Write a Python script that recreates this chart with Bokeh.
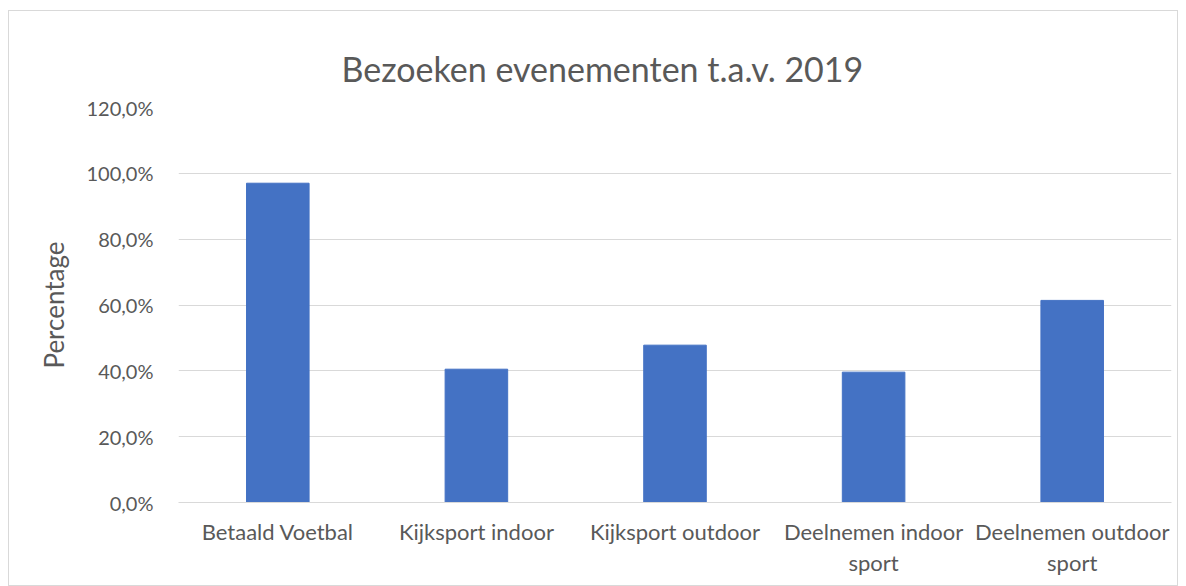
from bokeh.plotting import figure
from bokeh.models import Range1d, FactorRange, FixedTicker, CustomJSTickFormatter, Title
from bokeh.embed import file_html
from bokeh.resources import INLINE

title_text = "Bezoeken evenementen t.a.v. 2019"
categories = ["Betaald Voetbal", "Kijksport indoor", "Kijksport outdoor",
              "Deelnemen indoor sport", "Deelnemen outdoor sport"]
values = [97.0, 40.5, 47.8, 39.6, 61.4]
label_lines = {"Deelnemen indoor sport": "Deelnemen indoor\nsport",
               "Deelnemen outdoor sport": "Deelnemen outdoor\nsport"}
y_ticks = [0, 20, 40, 60, 80, 100, 120]

factors = [label_lines.get(c, c) for c in categories]

FONT = "Lato"
TXT = "#595959"
GRID = "#d9d9d9"

p = figure(x_range=FactorRange(factors=factors, range_padding=0),
           y_range=Range1d(0, 120),
           width=1170, height=576, output_backend="svg", toolbar_location=None,
           min_border_left=169, min_border_right=8, min_border_top=96, min_border_bottom=85)

p.vbar(x=factors, top=values, width=0.315, color="#4472C4")

t = Title(text=title_text, align="left", offset=163, vertical_align="top",
          text_font=FONT, text_font_size="34px", text_font_style="normal",
          text_color=TXT, standoff=34)
p.add_layout(t, "above")

p.outline_line_color = None
p.styles = {"border": "1px solid #d9d9d9", "margin-left": "8px", "margin-top": "10px"}

p.yaxis.ticker = FixedTicker(ticks=y_ticks)
p.yaxis.formatter = CustomJSTickFormatter(code="return tick.toFixed(1).replace('.', ',') + '%';")
p.yaxis.axis_line_color = None
p.yaxis.major_tick_line_color = None
p.yaxis.minor_tick_line_color = None
p.yaxis.major_label_standoff = 19
p.yaxis.major_label_text_font = FONT
p.yaxis.major_label_text_font_size = "20px"
p.yaxis.major_label_text_color = TXT
p.yaxis.axis_label = "Percentage"
p.yaxis.axis_label_text_font = FONT
p.yaxis.axis_label_text_font_size = "26px"
p.yaxis.axis_label_text_font_style = "normal"
p.yaxis.axis_label_text_color = TXT
p.yaxis.axis_label_standoff = 14

p.xaxis.axis_line_color = GRID
p.xaxis.axis_line_width = 1
p.xaxis.major_tick_line_color = None
p.xaxis.minor_tick_line_color = None
p.xaxis.major_label_standoff = 9
p.xaxis.major_label_text_font = FONT
p.xaxis.major_label_text_font_size = "22px"
p.xaxis.major_label_text_line_height = 1.15
p.xaxis.major_label_text_color = TXT
p.xaxis.major_label_orientation = "horizontal"

p.xgrid.grid_line_color = None
p.ygrid.grid_line_color = GRID
p.ygrid.grid_line_width = 1

open("out.html", "w").write(file_html(p, INLINE))
